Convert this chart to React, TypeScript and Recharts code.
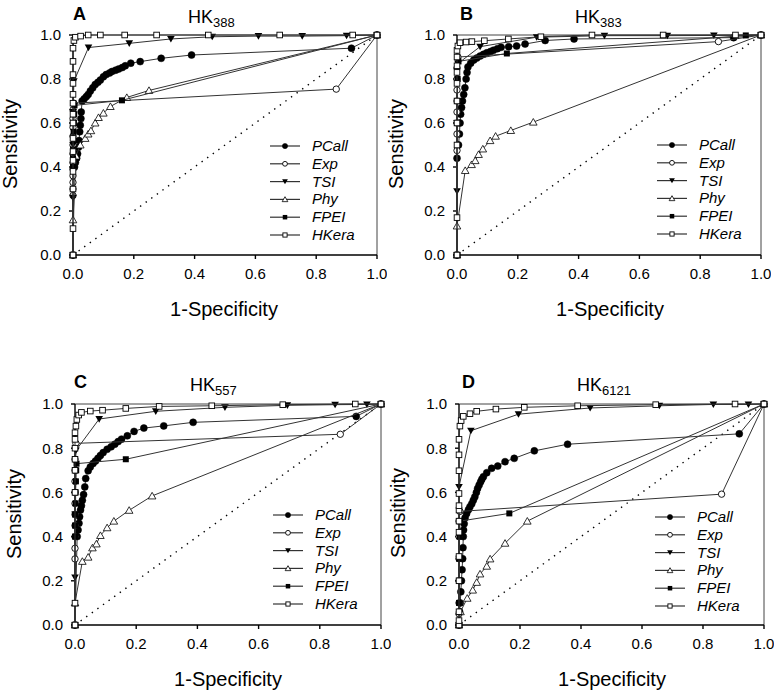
import React from "react";
import { ScatterChart, Scatter, XAxis, YAxis, ReferenceLine } from "recharts";

type P = [number, number];

// axis ticks and labels
const axisTicks = [0, 0.2, 0.4, 0.6, 0.8, 1.0];
const seriesNames = ["PCall", "Exp", "TSI", "Phy", "FPEI", "HKera"];
const panelLetters = ["A", "B", "C", "D"];
const panelGenes = ["388", "383", "557", "6121"];

// ---- panel A : HK388 ----
const aPCall: P[] = [[0, 0], [0.005, 0.4], [0.008, 0.42], [0.012, 0.44], [0.015, 0.46], [0.018, 0.49], [0.02, 0.52], [0.022, 0.56], [0.024, 0.59], [0.026, 0.62], [0.027, 0.65], [0.03, 0.7], [0.037, 0.71], [0.044, 0.72], [0.05, 0.73], [0.057, 0.745], [0.065, 0.76], [0.073, 0.775], [0.082, 0.785], [0.09, 0.795], [0.1, 0.81], [0.109, 0.82], [0.12, 0.827], [0.128, 0.834], [0.14, 0.84], [0.15, 0.845], [0.162, 0.852], [0.172, 0.86], [0.19, 0.872], [0.221, 0.879], [0.29, 0.894], [0.39, 0.909], [0.916, 0.94], [1, 1]];
const aExp: P[] = [[0, 0], [0, 0.27], [0, 0.3], [0, 0.33], [0, 0.36], [0, 0.39], [0, 0.42], [0, 0.46], [0, 0.5], [0, 0.54], [0, 0.58], [0, 0.62], [0, 0.66], [0.003, 0.69], [0.866, 0.754], [1, 1]];
const aTSI: P[] = [[0, 0], [0, 0.26], [0, 0.5], [0, 0.65], [0.003, 0.79], [0.051, 0.943], [0.185, 0.962], [0.322, 0.982], [0.458, 0.992], [0.61, 0.995], [0.754, 0.995], [0.9, 0.997], [1, 1]];
const aPhy: P[] = [[0, 0], [0, 0.16], [0.01, 0.45], [0.024, 0.5], [0.04, 0.53], [0.05, 0.55], [0.059, 0.565], [0.073, 0.6], [0.084, 0.625], [0.1, 0.645], [0.123, 0.675], [0.177, 0.716], [0.25, 0.748], [1, 1]];
const aFPEI: P[] = [[0, 0], [0, 0.4], [0, 0.44], [0, 0.48], [0.002, 0.52], [0.002, 0.56], [0.003, 0.6], [0.004, 0.64], [0.005, 0.68], [0.161, 0.703], [1, 1]];
const aHKera: P[] = [[0, 0], [0, 0.12], [0, 0.3], [0, 0.38], [0, 0.43], [0, 0.47], [0, 0.53], [0, 0.6], [0, 0.64], [0, 0.69], [0, 0.73], [0, 0.78], [0, 0.82], [0, 0.88], [0, 0.94], [0.003, 0.975], [0.008, 0.99], [0.025, 0.995], [0.05, 1], [0.09, 1], [0.17, 1], [0.275, 1], [0.445, 1], [0.68, 1], [0.92, 1], [1, 1]];

// ---- panel B : HK383 ----
const bPCall: P[] = [[0, 0], [0, 0.44], [0.005, 0.5], [0.008, 0.55], [0.01, 0.6], [0.012, 0.64], [0.015, 0.67], [0.018, 0.7], [0.022, 0.73], [0.026, 0.76], [0.03, 0.8], [0.033, 0.83], [0.036, 0.855], [0.045, 0.872], [0.055, 0.886], [0.065, 0.895], [0.076, 0.904], [0.087, 0.912], [0.098, 0.919], [0.11, 0.925], [0.12, 0.931], [0.133, 0.938], [0.145, 0.944], [0.17, 0.947], [0.196, 0.95], [0.224, 0.959], [0.29, 0.975], [0.385, 0.982], [0.91, 0.988], [1, 1]];
const bExp: P[] = [[0, 0], [0, 0.475], [0, 0.55], [0, 0.6], [0, 0.65], [0, 0.7], [0, 0.75], [0, 0.8], [0, 0.85], [0.003, 0.9], [0.86, 0.97], [1, 1]];
const bTSI: P[] = [[0, 0], [0, 0.29], [0, 0.6], [0.003, 0.87], [0.076, 0.947], [0.262, 0.99], [0.485, 0.997], [0.692, 0.997], [0.845, 0.998], [1, 1]];
const bPhy: P[] = [[0, 0], [0, 0.132], [0.027, 0.384], [0.048, 0.411], [0.06, 0.429], [0.071, 0.457], [0.085, 0.482], [0.109, 0.52], [0.127, 0.54], [0.177, 0.566], [0.251, 0.604], [1, 1]];
const bFPEI: P[] = [[0, 0], [0, 0.6], [0, 0.7], [0.002, 0.8], [0.005, 0.88], [0.164, 0.916], [0.95, 0.998], [1, 1]];
const bHKera: P[] = [[0, 0], [0, 0.17], [0, 0.5], [0, 0.6], [0, 0.7], [0, 0.78], [0, 0.83], [0, 0.86], [0, 0.9], [0, 0.93], [0.003, 0.95], [0.01, 0.965], [0.03, 0.968], [0.049, 0.97], [0.09, 0.974], [0.169, 0.982], [0.276, 0.992], [0.444, 1], [0.678, 1], [0.916, 1], [1, 1]];

// ---- panel C : HK557 ----
const cPCall: P[] = [[0, 0], [0.007, 0.4], [0.01, 0.43], [0.013, 0.46], [0.015, 0.49], [0.018, 0.52], [0.021, 0.54], [0.024, 0.564], [0.028, 0.59], [0.032, 0.625], [0.035, 0.663], [0.043, 0.698], [0.05, 0.715], [0.059, 0.731], [0.067, 0.742], [0.075, 0.754], [0.083, 0.767], [0.092, 0.78], [0.105, 0.795], [0.118, 0.806], [0.13, 0.818], [0.141, 0.83], [0.152, 0.841], [0.171, 0.856], [0.193, 0.876], [0.225, 0.891], [0.29, 0.901], [0.386, 0.917], [0.919, 0.944], [1, 1]];
const cExp: P[] = [[0, 0], [0, 0.299], [0, 0.347], [0, 0.4], [0, 0.45], [0, 0.5], [0, 0.55], [0, 0.6], [0, 0.65], [0, 0.7], [0, 0.75], [0.003, 0.822], [0.867, 0.863], [1, 1]];
const cTSI: P[] = [[0, 0], [0, 0.215], [0, 0.5], [0.003, 0.79], [0.079, 0.932], [0.264, 0.967], [0.49, 0.985], [0.694, 0.994], [0.85, 0.997], [0.954, 0.998], [1, 1]];
const cPhy: P[] = [[0, 0], [0, 0.1], [0.024, 0.288], [0.043, 0.307], [0.057, 0.349], [0.07, 0.367], [0.083, 0.405], [0.105, 0.44], [0.127, 0.47], [0.177, 0.519], [0.252, 0.584], [1, 1]];
const cFPEI: P[] = [[0, 0], [0, 0.4], [0, 0.45], [0, 0.5], [0.002, 0.55], [0.002, 0.6], [0.003, 0.65], [0.004, 0.7], [0.005, 0.73], [0.166, 0.75], [1, 1]];
const cHKera: P[] = [[0, 0], [0, 0.099], [0, 0.6], [0, 0.7], [0, 0.75], [0, 0.8], [0, 0.84], [0, 0.87], [0.003, 0.9], [0.006, 0.93], [0.012, 0.95], [0.021, 0.962], [0.05, 0.968], [0.09, 0.972], [0.166, 0.98], [0.275, 0.989], [0.447, 0.992], [0.679, 0.997], [0.916, 1], [1, 1]];

// ---- panel D : HK6121 ----
const dPCall: P[] = [[0, 0], [0.002, 0.06], [0.004, 0.1], [0.006, 0.15], [0.008, 0.2], [0.01, 0.25], [0.012, 0.3], [0.013, 0.35], [0.014, 0.4], [0.015, 0.43], [0.017, 0.458], [0.02, 0.485], [0.025, 0.504], [0.031, 0.522], [0.036, 0.535], [0.042, 0.549], [0.047, 0.565], [0.052, 0.58], [0.057, 0.6], [0.061, 0.618], [0.066, 0.633], [0.071, 0.648], [0.075, 0.66], [0.08, 0.671], [0.091, 0.689], [0.107, 0.709], [0.127, 0.719], [0.151, 0.739], [0.181, 0.754], [0.247, 0.788], [0.356, 0.818], [0.919, 0.865], [1, 1]];
const dExp: P[] = [[0, 0], [0, 0.05], [0, 0.1], [0, 0.2], [0, 0.3], [0, 0.4], [0, 0.47], [0.003, 0.514], [0.861, 0.592], [1, 1]];
const dTSI: P[] = [[0, 0], [0, 0.3], [0, 0.625], [0.039, 0.879], [0.195, 0.954], [0.43, 0.982], [0.657, 0.992], [0.834, 0.998], [0.949, 0.998], [1, 1]];
const dPhy: P[] = [[0, 0], [0.005, 0.06], [0.027, 0.121], [0.045, 0.158], [0.058, 0.193], [0.069, 0.231], [0.091, 0.266], [0.102, 0.299], [0.151, 0.37], [0.224, 0.47], [1, 1]];
const dFPEI: P[] = [[0, 0], [0, 0.1], [0, 0.2], [0, 0.3], [0.002, 0.4], [0.003, 0.47], [0.165, 0.505], [1, 1]];
const dHKera: P[] = [[0, 0], [0, 0.02], [0, 0.06], [0, 0.2], [0, 0.31], [0, 0.42], [0, 0.47], [0, 0.52], [0, 0.54], [0, 0.595], [0, 0.698], [0, 0.77], [0, 0.84], [0.003, 0.9], [0.007, 0.925], [0.014, 0.944], [0.036, 0.956], [0.058, 0.967], [0.121, 0.977], [0.214, 0.985], [0.389, 0.992], [0.645, 0.997], [0.905, 1], [1, 1]];

const panelSeries: P[][][] = [
  [aPCall, aExp, aTSI, aPhy, aFPEI, aHKera],
  [bPCall, bExp, bTSI, bPhy, bFPEI, bHKera],
  [cPCall, cExp, cTSI, cPhy, cFPEI, cHKera],
  [dPCall, dExp, dTSI, dPhy, dFPEI, dHKera],
];

// page layout of each panel (plot box + text anchors)
const layout = [
  { l: 73, t: 35, w: 304, h: 220, lx: 73, ly: 20, hx: 188, hy: 23, sx: 17, sy: 144, px: 224, py: 316, gx: 270, gy: 146 },
  { l: 457, t: 35, w: 304, h: 220, lx: 460, ly: 20, hx: 575, hy: 23, sx: 403, sy: 144, px: 610, py: 316, gx: 657, gy: 145 },
  { l: 75, t: 404, w: 306, h: 221, lx: 74, ly: 388, hx: 190, hy: 391, sx: 21, sy: 514, px: 228, py: 686, gx: 273, gy: 515 },
  { l: 459, t: 404, w: 305, h: 221, lx: 462, ly: 388, hx: 577, hy: 391, sx: 405, sy: 513, px: 612, py: 686, gx: 655, gy: 517 },
];

const FONT = '"Liberation Sans", Arial, sans-serif';

// s scales the marker (legend ones are drawn smaller)
const drawMarker = (kind: string, cx: number, cy: number, s = 1) => {
  switch (kind) {
    case "PCall":
      return <circle cx={cx} cy={cy} r={3.5 * s} fill="#000" stroke="#000" strokeWidth={0.5} />;
    case "Exp":
      return <circle cx={cx} cy={cy} r={3.2 * s} fill="#fff" stroke="#000" strokeWidth={0.9} />;
    case "TSI":
      return <polygon points={`${cx - 3.8 * s},${cy - 3 * s} ${cx + 3.8 * s},${cy - 3 * s} ${cx},${cy + 3.6 * s}`} fill="#000" />;
    case "Phy":
      return <polygon points={`${cx - 3.8 * s},${cy + 3 * s} ${cx + 3.8 * s},${cy + 3 * s} ${cx},${cy - 3.6 * s}`} fill="#fff" stroke="#000" strokeWidth={0.8} />;
    case "FPEI":
      return <rect x={cx - 3 * s} y={cy - 3 * s} width={6 * s} height={6 * s} fill="#000" />;
    default:
      return <rect x={cx - 2.8 * s} y={cy - 2.8 * s} width={5.6 * s} height={5.6 * s} fill="#fff" stroke="#000" strokeWidth={0.9} />;
  }
};

const Panel = ({ idx }: { idx: number }) => {
  const g = layout[idx];
  return (
    <div style={{ position: "absolute", left: g.l - 50, top: g.t - 10 }}>
      <ScatterChart width={g.w + 60} height={g.h + 40} margin={{ top: 10, right: 10, bottom: 0, left: 0 }}>
        <XAxis
          type="number" dataKey="x" domain={[0, 1]} ticks={axisTicks} height={30}
          tickFormatter={(v: number) => v.toFixed(1)}
          tick={{ fill: "#000", fontSize: 15, fontFamily: FONT }}
          stroke="#000" strokeWidth={1.4} tickSize={4} tickMargin={9}
        />
        <YAxis
          type="number" dataKey="y" domain={[0, 1]} ticks={axisTicks} width={50}
          tickFormatter={(v: number) => v.toFixed(1)}
          tick={{ fill: "#000", fontSize: 15, fontFamily: FONT }}
          stroke="#000" strokeWidth={1.4} tickSize={4} tickMargin={8}
        />
        <ReferenceLine y={1} stroke="#444" strokeWidth={1} />
        <ReferenceLine x={1} stroke="#444" strokeWidth={1} />
        <ReferenceLine segment={[{ x: 0, y: 0 }, { x: 1, y: 1 }]} stroke="#000" strokeWidth={1.4} strokeDasharray="1.4 5.5" />
        {seriesNames.map((name, si) => (
          <Scatter
            key={name}
            name={name}
            data={panelSeries[idx][si].map(([x, y]) => ({ x, y }))}
            line={{ stroke: "#333", strokeWidth: 1 }}
            lineType="joint"
            shape={(p: any) => drawMarker(name, p.cx, p.cy)}
            isAnimationActive={false}
          />
        ))}
      </ScatterChart>
    </div>
  );
};

const Overlay = () => (
  <svg width={780} height={698} style={{ position: "absolute", left: 0, top: 0, pointerEvents: "none" }} fontFamily={FONT}>
    {layout.map((g, i) => (
      <g key={i}>
        <text x={g.lx} y={g.ly} fontSize={18} fontWeight="bold" fill="#000">{panelLetters[i]}</text>
        <text x={g.hx} y={g.hy} fontSize={18} fill="#000">
          HK<tspan fontSize={13} dy={4}>{panelGenes[i]}</tspan>
        </text>
        <text transform={`translate(${g.sx},${g.sy}) rotate(-90)`} textAnchor="middle" fontSize={20} fill="#000">Sensitivity</text>
        <text x={g.px} y={g.py} textAnchor="middle" fontSize={20} fill="#000">1-Specificity</text>
        {seriesNames.map((name, si) => {
          const y = g.gy + si * 17.8;
          return (
            <g key={name}>
              <line x1={g.gx} x2={g.gx + 30} y1={y} y2={y} stroke="#333" strokeWidth={1.2} />
              {drawMarker(name, g.gx + 15, y, 0.75)}
              <text x={g.gx + 42} y={y + 5} fontSize={15} fontStyle="italic" fill="#000">{name}</text>
            </g>
          );
        })}
      </g>
    ))}
  </svg>
);

export default function App() {
  return (
    <div style={{ position: "absolute", left: 0, top: 0, width: 780, height: 698, background: "#fff", fontFamily: FONT }}>
      {[0, 1, 2, 3].map((i) => <Panel key={i} idx={i} />)}
      <Overlay />
    </div>
  );
}
